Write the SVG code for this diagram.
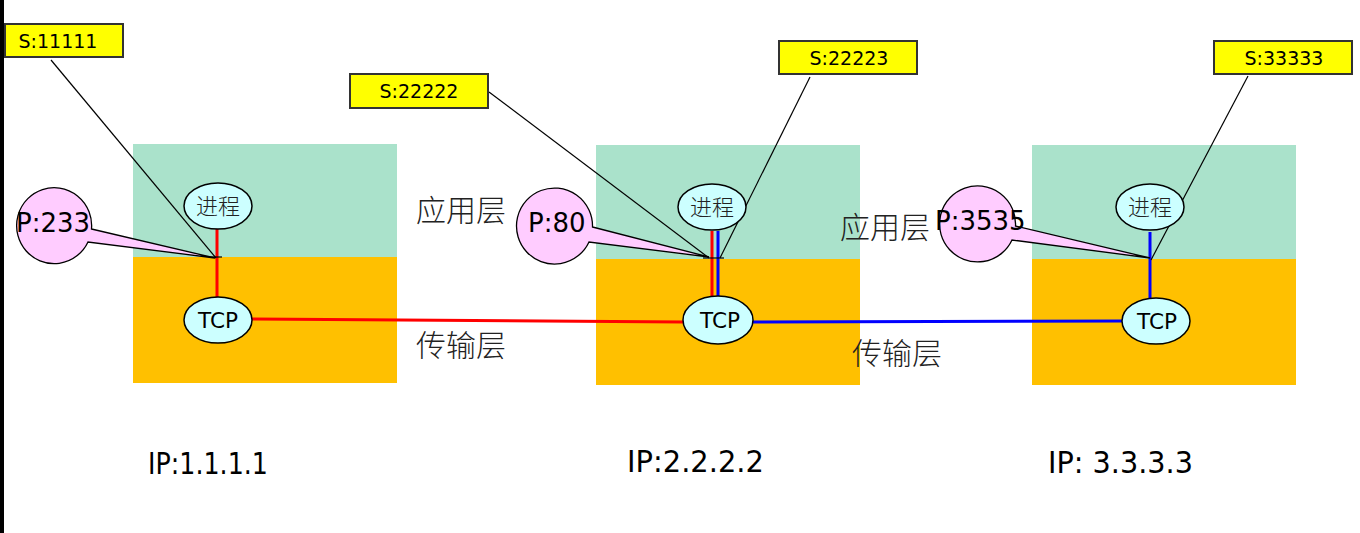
<svg xmlns="http://www.w3.org/2000/svg" width="1360" height="533" viewBox="0 0 1360 533">
<style>
.app{fill:#aae2cb}
.tr{fill:#ffc000}
.tag rect{fill:#ffff00;stroke:#333;stroke-width:2}
.tag text{font-family:"DejaVu Sans","Liberation Sans",sans-serif;font-size:19px;fill:#000;text-anchor:middle}
.proc ellipse{fill:#ccffff;stroke:#000;stroke-width:1.5}
.proc text{font-family:"Noto Sans CJK SC",sans-serif;font-size:22px;font-weight:300;fill:#222;text-anchor:middle}
.tcp ellipse{fill:#ccffff;stroke:#000;stroke-width:1.5}
.tcp text{font-family:"DejaVu Sans","Liberation Sans",sans-serif;font-size:22px;fill:#000;text-anchor:middle}
.port path{fill:#ffccff;stroke:#000;stroke-width:1.3}
.port text{font-family:"DejaVu Sans","Liberation Sans",sans-serif;font-size:26px;fill:#000}
.layer{font-family:"Noto Sans CJK SC",sans-serif;font-size:30px;font-weight:300;fill:#222}
.ip{font-family:"DejaVu Sans","Liberation Sans",sans-serif;font-size:30px;fill:#000}
.lead{stroke:#000;stroke-width:1.2;fill:none}
.red{stroke:#ff0000;stroke-width:3;fill:none}
.blue{stroke:#0000ff;stroke-width:3;fill:none}
</style>
<rect x="0" y="0" width="1360" height="533" fill="#fff"/>
<rect x="0" y="0" width="4" height="533" fill="#000"/>

<g id="host1">
<rect class="app" x="133" y="144" width="264" height="113"/>
<rect class="tr" x="133" y="257" width="264" height="126"/>
</g>
<g id="host2">
<rect class="app" x="596" y="145" width="264" height="114"/>
<rect class="tr" x="596" y="259" width="264" height="126"/>
</g>
<g id="host3">
<rect class="app" x="1032" y="145" width="264" height="114"/>
<rect class="tr" x="1032" y="259" width="264" height="126"/>
</g>

<g id="layer-labels">
<text class="layer" x="416" y="221">应用层</text>
<text class="layer" x="416" y="356">传输层</text>
<text class="layer" x="840" y="238">应用层</text>
<text class="layer" x="852" y="364">传输层</text>
</g>

<g id="connectors">
<line class="red" x1="217" y1="229" x2="217" y2="297"/>
<line class="red" x1="712" y1="231" x2="712" y2="297"/>
<line class="blue" x1="718" y1="231" x2="718" y2="297"/>
<line class="blue" x1="1150" y1="232" x2="1150" y2="298"/>
<line class="red" x1="252" y1="319" x2="683" y2="322"/>
<line class="blue" x1="753" y1="322" x2="1122" y2="321"/>
<line class="lead" x1="51" y1="60" x2="216" y2="258"/>
<line class="lead" x1="489" y1="92" x2="709" y2="258"/>
<line class="lead" x1="810" y1="77" x2="720" y2="258"/>
<line class="lead" x1="1248" y1="76" x2="1151" y2="260"/>
<line class="lead" x1="209" y1="257" x2="222" y2="257"/>
<line class="lead" x1="703" y1="258" x2="724" y2="258"/>
</g>

<g id="proc1" class="proc"><ellipse cx="218" cy="206" rx="34" ry="23"/><text x="218" y="214">进程</text></g>
<g id="tcp1" class="tcp"><ellipse cx="218" cy="320" rx="34" ry="23"/><text x="218" y="328" textLength="40" lengthAdjust="spacingAndGlyphs">TCP</text></g>
<g id="proc2" class="proc"><ellipse cx="712" cy="207" rx="34" ry="23"/><text x="712" y="215">进程</text></g>
<g id="tcp2" class="tcp"><ellipse cx="718" cy="320" rx="35" ry="24"/><text x="720" y="328" textLength="40" lengthAdjust="spacingAndGlyphs">TCP</text></g>
<g id="proc3" class="proc"><ellipse cx="1150" cy="207" rx="34" ry="23"/><text x="1150" y="215">进程</text></g>
<g id="tcp3" class="tcp"><ellipse cx="1156" cy="321" rx="34" ry="23"/><text x="1157" y="329" textLength="40" lengthAdjust="spacingAndGlyphs">TCP</text></g>

<g id="port1" class="port">
<path d="M 91.5 229 L 215 258 L 88 242 A 37.5 38 0 1 1 91.5 229 Z"/>
<text x="16" y="232">P:233</text>
</g>
<g id="port2" class="port">
<path d="M 592.5 227 L 709 257 L 589 242 A 38 38 0 1 1 592.5 227 Z"/>
<text x="528" y="232">P:80</text>
</g>
<g id="port3" class="port">
<path d="M 1015.5 226 L 1150 258 L 1012 240 A 38 38 0 1 1 1015.5 226 Z"/>
<text x="935" y="230">P:3535</text>
</g>

<g id="tag1" class="tag"><rect x="5" y="24" width="118" height="33"/><text x="58" y="48">S:11111</text></g>
<g id="tag2" class="tag"><rect x="350" y="74" width="138" height="34"/><text x="419" y="98">S:22222</text></g>
<g id="tag3" class="tag"><rect x="779" y="41" width="138" height="33"/><text x="849" y="65">S:22223</text></g>
<g id="tag4" class="tag"><rect x="1214" y="41" width="138" height="33"/><text x="1284" y="65">S:33333</text></g>

<g id="ips">
<text class="ip" x="148" y="474" textLength="120" lengthAdjust="spacingAndGlyphs">IP:1.1.1.1</text>
<text class="ip" x="627" y="472" textLength="137" lengthAdjust="spacingAndGlyphs">IP:2.2.2.2</text>
<text class="ip" x="1048" y="473" textLength="145" lengthAdjust="spacingAndGlyphs">IP: 3.3.3.3</text>
</g>
</svg>
